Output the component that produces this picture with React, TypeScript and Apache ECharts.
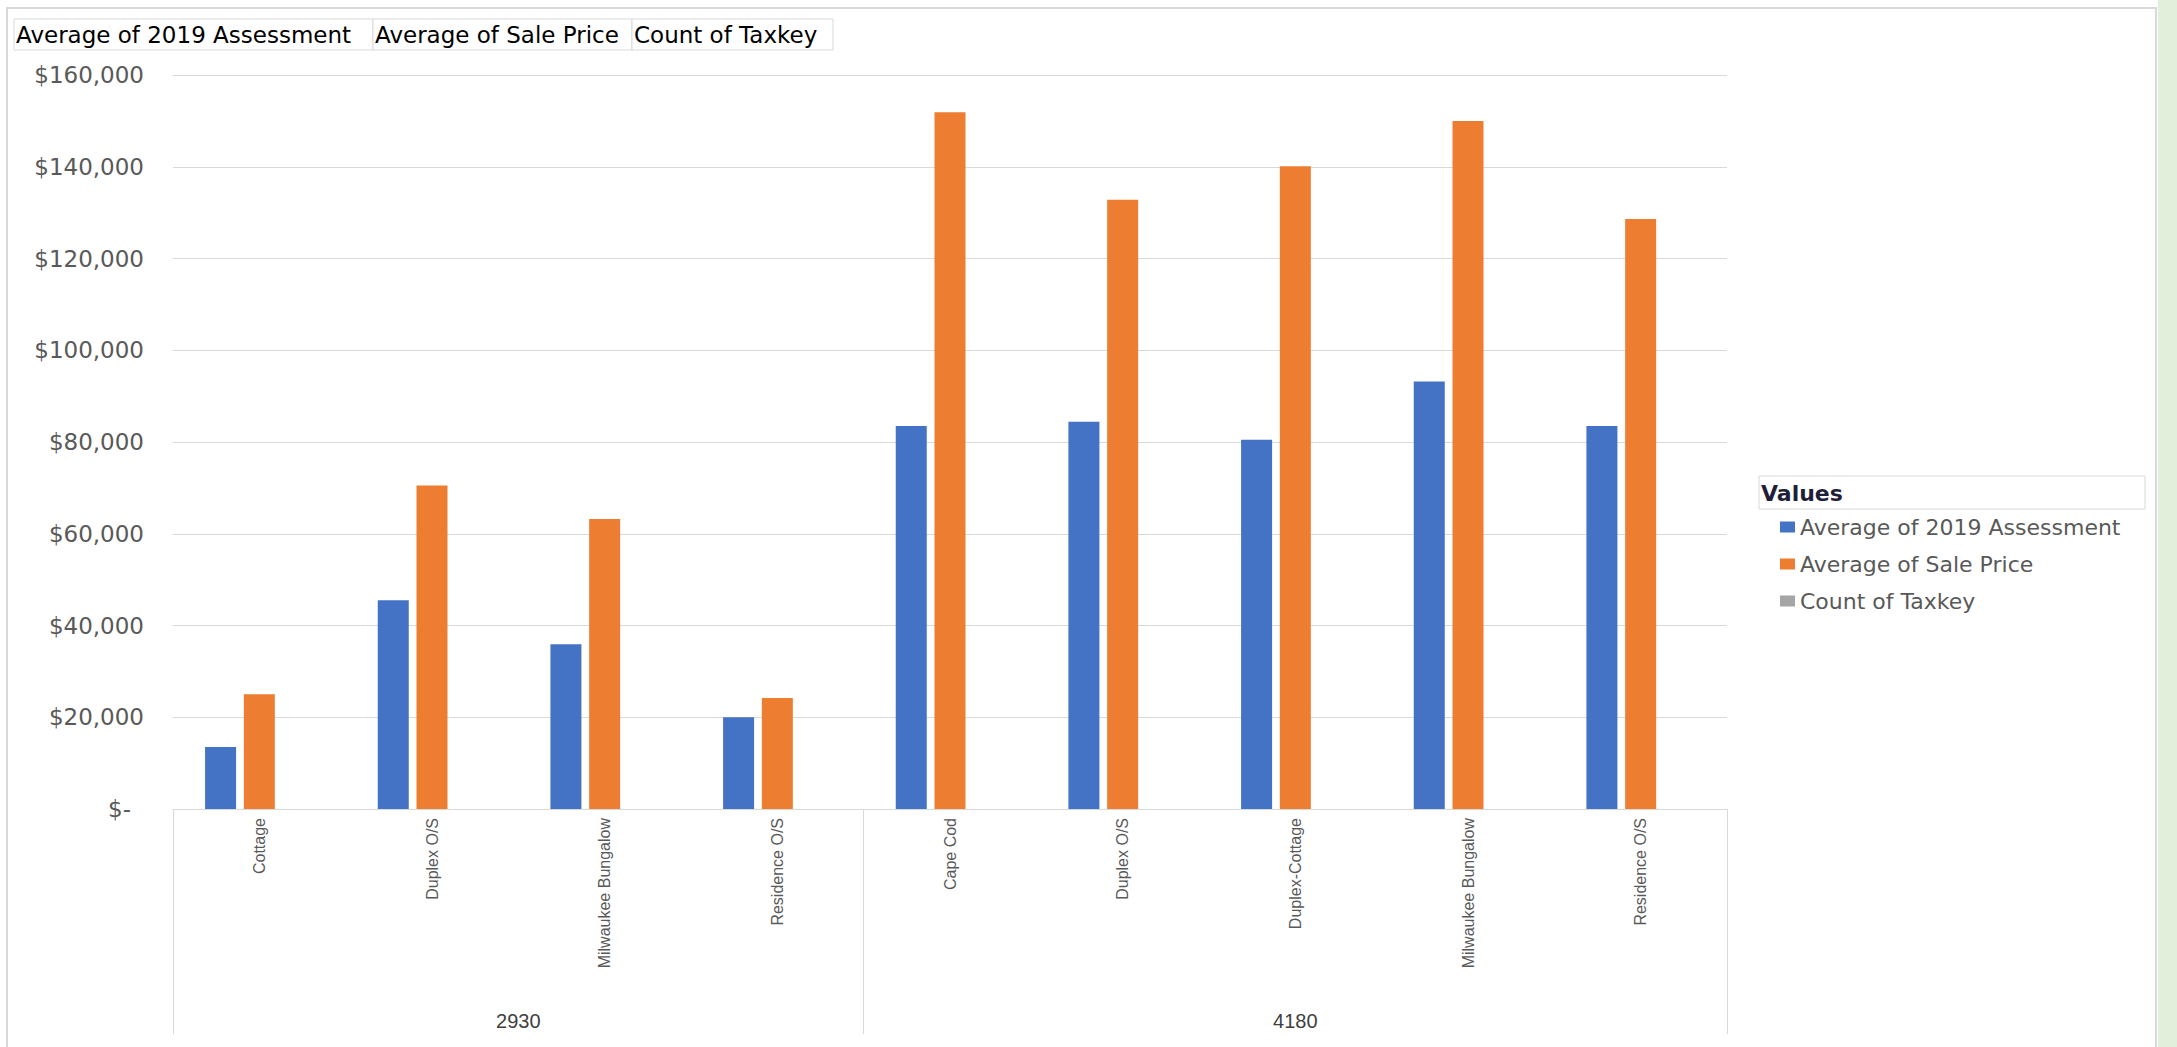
import React, { useEffect, useRef } from "react";
import * as echarts from "echarts";

// ---- data ----
const groups = ["2930", "4180"];
const categories = [
  "Cottage", "Duplex O/S", "Milwaukee Bungalow", "Residence O/S",
  "Cape Cod", "Duplex O/S", "Duplex-Cottage", "Milwaukee Bungalow", "Residence O/S",
];
const groupSizes = [4, 5];
const assessment = [13500, 45500, 35900, 20000, 83500, 84400, 80500, 93200, 83500];
const salePrice = [25000, 70500, 63200, 24200, 151900, 132800, 140100, 150000, 128600];
// counts are too small to be visible at this scale
const countTaxkey: (number | null)[] = [null, null, null, null, null, null, null, null, null];
const seriesNames = ["Average of 2019 Assessment", "Average of Sale Price", "Count of Taxkey"];
const seriesColors = ["#4472C4", "#ED7D31", "#A5A5A5"];
const yTicks = { min: 0, max: 160000, interval: 20000 };

const FONT = "DejaVu Sans";

export default function App() {
  const ref = useRef<HTMLDivElement>(null);
  useEffect(() => {
    if (!ref.current) return;
    const chart = echarts.init(ref.current, undefined, { renderer: "svg" });
    const n = categories.length;
    const boundaries: number[] = [0];
    groupSizes.forEach((s) => boundaries.push(boundaries[boundaries.length - 1] + s));
    const groupCenters = groupSizes.map((s, i) => boundaries[i] + s / 2);

    const buttons = [
      { x: 14, w: 359 },
      { x: 373, w: 259 },
      { x: 632, w: 201 },
    ];

    const option: any = {
      animation: false,
      backgroundColor: "#ffffff",
      grid: { left: 173, top: 75, width: 1554, height: 734, containLabel: false },
      legend: {
        orient: "vertical",
        left: 1775,
        top: 511,
        icon: "rect",
        itemWidth: 15,
        itemHeight: 11,
        itemGap: 15,
        selectedMode: false,
        data: seriesNames,
        textStyle: { fontFamily: FONT, fontSize: 22, color: "#595959", lineHeight: 22 },
      },
      xAxis: [
        {
          type: "category",
          data: categories,
          axisLine: { show: true, lineStyle: { color: "#d9d9d9", width: 1 } },
          axisTick: { show: false },
          axisLabel: {
            interval: 0,
            rotate: 90,
            margin: 9,
            fontFamily: "Liberation Sans",
            fontSize: 16,
            color: "#595959",
          },
        },
        {
          type: "value",
          min: 0,
          max: n,
          position: "bottom",
          axisLine: { show: false },
          splitLine: { show: false },
          axisTick: {
            show: true,
            length: 225,
            customValues: boundaries,
            lineStyle: { color: "#d9d9d9", width: 1 },
          },
          axisLabel: {
            customValues: groupCenters,
            margin: 202,
            formatter: (v: number) => {
              const i = groupCenters.findIndex((c) => Math.abs(c - v) < 1e-6);
              return i >= 0 ? groups[i] : "";
            },
            fontFamily: "Liberation Sans",
            fontSize: 20,
            color: "#404040",
          },
        },
      ],
      yAxis: {
        type: "value",
        min: yTicks.min,
        max: yTicks.max,
        interval: yTicks.interval,
        axisLine: { show: false },
        axisTick: { show: false },
        splitLine: { lineStyle: { color: "#d9d9d9", width: 1 } },
        axisLabel: {
          margin: 29,
          fontFamily: FONT,
          fontSize: 23,
          color: "#595959",
          formatter: (v: number) =>
            v === 0 ? "{z|$-}" : "$" + v.toLocaleString("en-US"),
          rich: {
            z: { fontFamily: FONT, fontSize: 23, color: "#595959", padding: [0, 13, 0, 0] },
          },
        },
      },
      series: [assessment, salePrice, countTaxkey].map((d, i) => ({
        name: seriesNames[i],
        type: "bar",
        xAxisIndex: 0,
        data: d,
        barWidth: 31,
        barGap: "25%",
        itemStyle: { color: seriesColors[i] },
      })),
      graphic: [
        {
          type: "rect",
          silent: true,
          shape: { x: 7, y: 8, width: 2149, height: 1100 },
          style: { fill: "none", stroke: "#d9d9d9", lineWidth: 2 },
        },
        {
          type: "rect",
          silent: true,
          shape: { x: 2158, y: 0, width: 19, height: 1047 },
          style: { fill: "#e2efda" },
        },
        ...buttons.map((b, i) => ({
          type: "group",
          children: [
            {
              type: "rect",
              shape: { x: b.x, y: 19, width: b.w, height: 31 },
              style: { fill: "#ffffff", stroke: "#d9d9d9", lineWidth: 1 },
            },
            {
              type: "text",
              x: b.x + 2,
              y: 35,
              style: {
                text: seriesNames[i],
                fontFamily: FONT,
                fontSize: 23,
                fill: "#000000",
                verticalAlign: "middle",
              },
            },
          ],
        })),
        {
          type: "rect",
          shape: { x: 1759, y: 476, width: 386, height: 33 },
          style: { fill: "#ffffff", stroke: "#d9d9d9", lineWidth: 1 },
        },
        {
          type: "text",
          x: 1761,
          y: 493,
          style: {
            text: "Values",
            fontFamily: FONT,
            fontSize: 22,
            fontWeight: "bold",
            fill: "#1f1f3a",
            verticalAlign: "middle",
          },
        },
      ],
    };
    chart.setOption(option);
    return () => chart.dispose();
  }, []);
  return (
    <div
      ref={ref}
      style={{ position: "fixed", left: 0, top: 0, width: 2177, height: 1047, background: "#fff" }}
    />
  );
}
